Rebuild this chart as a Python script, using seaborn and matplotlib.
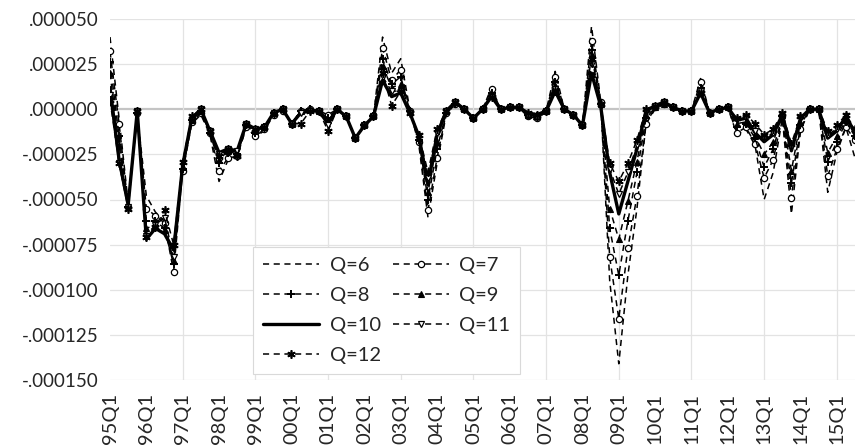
import matplotlib
matplotlib.use("Agg")
import matplotlib.pyplot as plt
import seaborn as sns
import pandas as pd
from matplotlib.ticker import FixedLocator, FuncFormatter

# ---- data (values in units of 1e-6) ----
years = [f"{y % 100:02d}" for y in range(1995, 2016)]
quarters = [f"{y}Q{q}" for y in years for q in range(1, 5)][:83]
tick_labels = [f"{y}Q1" for y in years]

q6 = [40, -5, -52, -3, -48, -57, -62, -85, -35, -8, -3, -14, -40, -28, -26, -10, -15, -12, -3, -1,
      -8, -1, 0, -1, -5, 0, -4, -16, -9, -4, 40, 20, 28, 0, -20, -60, -30, -3, 3, 0,
      -5, 0, 12, 0, 1, 1, -5, -6, -1, 21, 0, -3, -9, 46, 5, -95, -141, -92, -55, -8,
      0, 3, 1, -1, -1, 17, -2, 0, 1, -14, -11, -20, -50, -35, -5, -58, -12, 0, 0, -46,
      -24, -10, -27]
q7 = [32, -8, -54, -2, -55, -59, -63, -90, -34, -7, -2, -13, -34, -27, -26, -10, -15, -11, -3, -1,
      -8, -1, 0, -1, -3, 0, -4, -16, -9, -4, 34, 16, 22, -1, -18, -56, -27, -2, 3, 0,
      -5, 0, 11, 0, 1, 1, -4, -5, -1, 18, 0, -3, -9, 38, 4, -82, -116, -77, -48, -8,
      1, 3, 1, -1, -1, 15, -2, 0, 1, -13, -10, -19, -38, -28, -4, -49, -11, 0, 0, -37,
      -22, -10, -17]
q8 = [26, -15, -54, -2, -62, -62, -66, -86, -33, -6, -1, -13, -30, -24, -25, -9, -13, -10, -2, 0,
      -8, -1, 0, -1, -5, 0, -4, -16, -9, -4, 28, 14, 18, -1, -17, -50, -22, -2, 3, 0,
      -5, 0, 9, 0, 1, 1, -3, -4, -1, 15, 0, -3, -9, 33, 3, -66, -92, -62, -35, -5,
      1, 3, 1, -1, -1, 12, -2, 0, 1, -10, -8, -16, -32, -22, -4, -41, -9, 0, 0, -29,
      -18, -7, -15]
q9 = [20, -20, -53, -1, -66, -64, -67, -84, -32, -6, -1, -12, -28, -23, -24, -8, -12, -10, -2, 0,
      -8, -1, 0, -1, -6, 0, -4, -16, -9, -4, 24, 12, 14, -1, -16, -46, -18, -1, 4, 0,
      -5, 0, 8, 0, 1, 1, -3, -4, -1, 13, 0, -3, -9, 30, 3, -55, -72, -51, -29, -3,
      1, 3, 1, -1, -1, 11, -2, 0, 1, -8, -7, -15, -25, -18, -3, -34, -7, 0, 0, -24,
      -15, -6, -14]
q10 = [12, -28, -53, -1, -72, -66, -69, -78, -31, -5, 0, -12, -24, -22, -23, -8, -11, -10, -2, 0,
       -8, -2, -1, -1, -8, 0, -4, -16, -9, -4, 16, 7, 9, -2, -15, -42, -14, -1, 4, 0,
       -5, 0, 7, 0, 1, 1, -2, -3, -1, 10, 0, -3, -9, 20, 2, -35, -58, -40, -22, -1,
       2, 4, 1, -1, -1, 9, -2, 0, 1, -6, -5, -13, -18, -14, -3, -23, -5, 0, 0, -16,
       -12, -4, -13]
q11 = [8, -30, -54, -1, -70, -64, -60, -82, -30, -5, 0, -12, -25, -22, -23, -8, -11, -10, -2, 0,
       -8, -2, -1, -1, -9, 0, -4, -16, -9, -4, 18, 10, 10, -2, -15, -38, -13, -1, 4, 0,
       -5, 0, 7, 0, 1, 1, -4, -5, -1, 11, 0, -3, -9, 25, 2, -33, -47, -35, -20, -1,
       2, 4, 1, -1, -1, 10, -2, 0, 1, -6, -5, -12, -16, -13, -3, -21, -5, 0, 0, -14,
       -11, -4, -12]
q12 = [5, -30, -55, -1, -71, -65, -56, -75, -29, -4, 0, -12, -26, -22, -26, -8, -11, -10, -2, 0,
       -8, -8, -1, -1, -12, 0, -4, -16, -9, -4, 20, 2, 10, -2, -14, -35, -11, -1, 4, 0,
       -5, 0, 7, 0, 1, 1, -2, -3, -1, 10, 0, -3, -9, 28, 3, -30, -40, -30, -17, 0,
       2, 4, 1, -1, -1, 9, -2, 0, 1, -5, -3, -8, -14, -11, -2, -19, -4, 0, 0, -12,
       -9, -3, -11]

series = {"Q=6": q6, "Q=7": q7, "Q=8": q8, "Q=9": q9, "Q=10": q10, "Q=11": q11, "Q=12": q12}
y_ticks = [-150, -125, -100, -75, -50, -25, 0, 25, 50]

# ---- styles ----
dash = (0, (4, 3))
styles = {
    "Q=6": dict(linestyle=dash, linewidth=1.1, marker=None),
    "Q=7": dict(linestyle=dash, linewidth=1.1, marker="o", markersize=4.5,
                markerfacecolor="white", markeredgecolor="black", markeredgewidth=0.9),
    "Q=8": dict(linestyle=dash, linewidth=1.1, marker="+", markersize=6,
                markerfacecolor="black", markeredgecolor="black", markeredgewidth=1.4),
    "Q=9": dict(linestyle=dash, linewidth=1.1, marker="^", markersize=5,
                markerfacecolor="black", markeredgecolor="black", markeredgewidth=0.8),
    "Q=10": dict(linestyle="-", linewidth=2.4, marker=None),
    "Q=11": dict(linestyle=dash, linewidth=1.1, marker="v", markersize=5,
                 markerfacecolor="white", markeredgecolor="black", markeredgewidth=0.9),
    "Q=12": dict(linestyle=dash, linewidth=1.1, marker=(6, 2, 0), markersize=6,
                 markerfacecolor="black", markeredgecolor="black", markeredgewidth=1.2),
}

sns.set_style("white")
plt.rcParams["font.family"] = ["Lato", "DejaVu Sans"]
FS = 14.5
FS_Y = 13.5

fig = plt.figure(figsize=(8.55, 4.45), dpi=100)
ax = fig.add_axes([110 / 855, 1 - 380 / 445, 1 - 110 / 855, (380 - 19) / 445])

xs = list(range(len(quarters)))
handles = {}
for name, vals in series.items():
    df = pd.DataFrame({"x": xs, "y": vals})
    sns.lineplot(data=df, x="x", y="y", ax=ax, color="black", estimator=None,
                 label=name, legend=False, **styles[name])
    handles[name] = ax.get_lines()[-1]

ax.set_xlim(0, len(quarters) - 1)
ax.set_ylim(-150, 50)

# gridlines
for yv in y_ticks:
    if yv == 0:
        ax.axhline(yv, color="#c4c4c4", linewidth=1.6, zorder=0.5)
    else:
        ax.axhline(yv, color="#e3e3e3", linewidth=0.9, zorder=0.5)
for xv in range(8, len(quarters), 8):
    ax.axvline(xv, color="#e3e3e3", linewidth=0.9, zorder=0.5)

ax.yaxis.set_major_locator(FixedLocator(y_ticks))
ax.yaxis.set_major_formatter(FuncFormatter(
    lambda v, p: f"{v * 1e-6:.6f}".replace("0.", ".", 1)))
ax.set_xticks(list(range(0, len(quarters), 4)))
ax.set_xticklabels(tick_labels, rotation=90, fontsize=FS)
ax.tick_params(axis="y", labelsize=FS_Y, length=0, pad=8)
ax.tick_params(axis="x", length=0, pad=9)
ax.set_xlabel("")
ax.set_ylabel("")
for s in ax.spines.values():
    s.set_visible(False)

order = ["Q=6", "Q=8", "Q=10", "Q=12", "Q=7", "Q=9", "Q=11"]
leg = ax.legend([handles[k] for k in order], order, ncol=2, loc="upper left",
                bbox_to_anchor=(253 / 855, 1 - 247 / 445), bbox_transform=fig.transFigure,
                borderaxespad=0, fontsize=FS, frameon=True, fancybox=False,
                framealpha=1, edgecolor="#d9d9d9", handlelength=2.8,
                handletextpad=0.5, columnspacing=0.6, labelspacing=0.64,
                borderpad=0.5, numpoints=1)
leg.get_frame().set_linewidth(0.8)

fig.savefig("out.png", dpi=100)
